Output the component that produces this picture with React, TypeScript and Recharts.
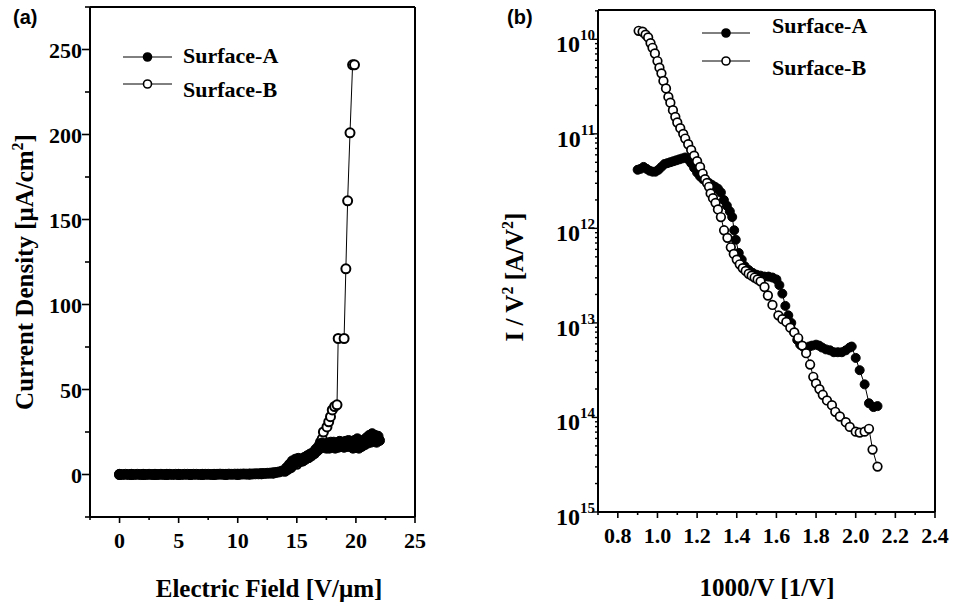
import React from 'react';
import { LineChart, Line, XAxis, YAxis, ReferenceLine, Legend } from 'recharts';

const SERIF = '"Liberation Serif", "Times New Roman", serif';
const SANS = '"Liberation Sans", Arial, sans-serif';

// ---------- panel (a) ----------
const fieldMajor = [0, 5, 10, 15, 20, 25];
const fieldMinor = [-2.5, 2.5, 7.5, 12.5, 17.5, 22.5];
const densityMajor = [0, 50, 100, 150, 200, 250];
const densityMinor = [-25, 25, 75, 125, 175, 225, 275];

const seriesNames = ['Surface-A', 'Surface-B'];

const densityA = [
  { x: 0, y: 0.1 }, { x: 0.25, y: 0 }, { x: 0.5, y: 0.1 }, { x: 0.75, y: 0 }, { x: 1, y: 0.1 },
  { x: 1.25, y: 0 }, { x: 1.5, y: 0.1 }, { x: 1.75, y: 0 }, { x: 2, y: 0.1 }, { x: 2.25, y: 0 },
  { x: 2.5, y: 0.1 }, { x: 2.75, y: 0 }, { x: 3, y: 0.1 }, { x: 3.25, y: 0 }, { x: 3.5, y: 0.1 },
  { x: 3.75, y: 0 }, { x: 4, y: 0.1 }, { x: 4.25, y: 0.1 }, { x: 4.5, y: 0 }, { x: 4.75, y: 0.1 },
  { x: 5, y: 0.1 }, { x: 5.25, y: 0 }, { x: 5.5, y: 0.1 }, { x: 5.75, y: 0.1 }, { x: 6, y: 0 },
  { x: 6.25, y: 0.1 }, { x: 6.5, y: 0.1 }, { x: 6.75, y: 0 }, { x: 7, y: 0.1 }, { x: 7.25, y: 0.1 },
  { x: 7.5, y: 0.1 }, { x: 7.75, y: 0 }, { x: 8, y: 0.1 }, { x: 8.25, y: 0.1 }, { x: 8.5, y: 0.2 },
  { x: 8.75, y: 0.1 }, { x: 9, y: 0.1 }, { x: 9.25, y: 0.2 }, { x: 9.5, y: 0.1 }, { x: 9.75, y: 0.2 },
  { x: 10, y: 0.2 }, { x: 10.25, y: 0.2 }, { x: 10.5, y: 0.3 }, { x: 10.75, y: 0.2 }, { x: 11, y: 0.3 },
  { x: 11.25, y: 0.3 }, { x: 11.5, y: 0.4 }, { x: 11.75, y: 0.4 }, { x: 12, y: 0.5 }, { x: 12.25, y: 0.6 },
  { x: 12.5, y: 0.7 }, { x: 12.75, y: 0.8 }, { x: 13, y: 1.0 }, { x: 13.25, y: 1.2 }, { x: 13.5, y: 1.5 },
  { x: 13.75, y: 2.0 }, { x: 14, y: 2 }, { x: 14.125, y: 4 }, { x: 14.25, y: 3 }, { x: 14.375, y: 6 },
  { x: 14.5, y: 4.5 }, { x: 14.625, y: 8 }, { x: 14.75, y: 6 }, { x: 14.875, y: 9 }, { x: 15, y: 7 },
  { x: 15.125, y: 9.5 }, { x: 15.25, y: 7.5 }, { x: 15.375, y: 9 }, { x: 15.5, y: 8 }, { x: 15.625, y: 10 },
  { x: 15.75, y: 9 }, { x: 15.875, y: 11 }, { x: 16, y: 10 }, { x: 16.125, y: 12 }, { x: 16.25, y: 11 },
  { x: 16.375, y: 13 }, { x: 16.5, y: 12.5 }, { x: 16.625, y: 15 }, { x: 16.75, y: 14 }, { x: 16.875, y: 17 },
  { x: 17, y: 15.5 }, { x: 17.125, y: 18.5 }, { x: 17.25, y: 16 }, { x: 17.375, y: 18 }, { x: 17.5, y: 15.5 },
  { x: 17.625, y: 18.5 }, { x: 17.75, y: 15.5 }, { x: 17.875, y: 19 }, { x: 18, y: 16 }, { x: 18.125, y: 19 },
  { x: 18.25, y: 15.5 }, { x: 18.375, y: 18.5 }, { x: 18.5, y: 16 }, { x: 18.625, y: 19.5 }, { x: 18.75, y: 16.5 },
  { x: 18.875, y: 19 }, { x: 19, y: 16 }, { x: 19.125, y: 19.5 }, { x: 19.25, y: 16.5 }, { x: 19.375, y: 20 },
  { x: 19.5, y: 16.5 }, { x: 19.625, y: 19.5 }, { x: 19.75, y: 15.5 }, { x: 19.875, y: 20 }, { x: 20, y: 16 },
  { x: 20.125, y: 21 }, { x: 20.25, y: 15.5 }, { x: 20.375, y: 19.5 }, { x: 20.5, y: 16.5 }, { x: 20.625, y: 20 },
  { x: 20.75, y: 17.5 }, { x: 20.875, y: 21.5 }, { x: 21, y: 18.5 }, { x: 21.125, y: 23 }, { x: 21.25, y: 19 },
  { x: 21.375, y: 24 }, { x: 21.5, y: 19.5 }, { x: 21.625, y: 23 }, { x: 21.75, y: 19 }, { x: 21.875, y: 22.5 },
  { x: 22, y: 20 },
];

const densityB = [
  { x: 0, y: 0 }, { x: 1, y: 0 }, { x: 2, y: 0 }, { x: 3, y: 0 }, { x: 4, y: 0 }, { x: 5, y: 0 },
  { x: 6, y: 0 }, { x: 7, y: 0 }, { x: 8, y: 0 }, { x: 9, y: 0 }, { x: 10, y: 0 }, { x: 11, y: 0.2 },
  { x: 12, y: 0.4 }, { x: 13, y: 0.8 }, { x: 14, y: 2 }, { x: 14.5, y: 4 }, { x: 15, y: 6 },
  { x: 15.5, y: 8 }, { x: 16, y: 10 }, { x: 16.5, y: 12.5 }, { x: 16.8, y: 15 }, { x: 17.0, y: 19 },
  { x: 17.15, y: 21 }, { x: 17.25, y: 25 }, { x: 17.55, y: 28 }, { x: 17.7, y: 31 }, { x: 17.85, y: 34 },
  { x: 18.0, y: 38 }, { x: 18.2, y: 40 }, { x: 18.4, y: 41 }, { x: 18.5, y: 80 }, { x: 19.0, y: 80 },
  { x: 19.15, y: 121 }, { x: 19.3, y: 161 }, { x: 19.5, y: 201 }, { x: 19.72, y: 241 }, { x: 19.88, y: 241 },
];

// ---------- panel (b) ----------
const invVMajor = [0.8, 1.0, 1.2, 1.4, 1.6, 1.8, 2.0, 2.2, 2.4];
const invVMinor = [0.7, 0.9, 1.1, 1.3, 1.5, 1.7, 1.9, 2.1, 2.3];
const fnDecades = [10, 11, 12, 13, 14, 15];

// y = decade exponent of I/V^2 as printed on the axis
const fnA = [
  { x: 0.9, y: 11.38 }, { x: 0.915, y: 11.37 }, { x: 0.93, y: 11.35 }, { x: 0.945, y: 11.37 },
  { x: 0.96, y: 11.39 }, { x: 0.975, y: 11.4 }, { x: 0.99, y: 11.4 }, { x: 1.005, y: 11.38 },
  { x: 1.02, y: 11.35 }, { x: 1.035, y: 11.32 }, { x: 1.05, y: 11.31 }, { x: 1.065, y: 11.3 },
  { x: 1.08, y: 11.29 }, { x: 1.095, y: 11.28 }, { x: 1.11, y: 11.27 }, { x: 1.125, y: 11.26 },
  { x: 1.14, y: 11.25 }, { x: 1.155, y: 11.27 }, { x: 1.17, y: 11.31 }, { x: 1.185, y: 11.36 },
  { x: 1.2, y: 11.41 }, { x: 1.215, y: 11.45 }, { x: 1.23, y: 11.48 }, { x: 1.245, y: 11.5 },
  { x: 1.26, y: 11.52 }, { x: 1.275, y: 11.54 }, { x: 1.29, y: 11.56 }, { x: 1.305, y: 11.58 },
  { x: 1.32, y: 11.62 }, { x: 1.335, y: 11.7 }, { x: 1.35, y: 11.76 }, { x: 1.365, y: 11.82 },
  { x: 1.377, y: 11.88 }, { x: 1.387, y: 12.02 }, { x: 1.395, y: 12.12 }, { x: 1.41, y: 12.26 },
  { x: 1.425, y: 12.33 }, { x: 1.44, y: 12.4 }, { x: 1.46, y: 12.44 }, { x: 1.48, y: 12.47 },
  { x: 1.5, y: 12.49 }, { x: 1.52, y: 12.5 }, { x: 1.54, y: 12.51 }, { x: 1.56, y: 12.51 },
  { x: 1.58, y: 12.52 }, { x: 1.6, y: 12.54 }, { x: 1.615, y: 12.6 }, { x: 1.63, y: 12.69 },
  { x: 1.645, y: 12.82 }, { x: 1.66, y: 12.92 }, { x: 1.675, y: 13.0 }, { x: 1.69, y: 13.1 },
  { x: 1.705, y: 13.18 }, { x: 1.72, y: 13.23 }, { x: 1.735, y: 13.25 }, { x: 1.75, y: 13.27 },
  { x: 1.765, y: 13.25 }, { x: 1.78, y: 13.24 }, { x: 1.8, y: 13.23 }, { x: 1.815, y: 13.24 },
  { x: 1.83, y: 13.26 }, { x: 1.85, y: 13.28 }, { x: 1.87, y: 13.29 }, { x: 1.89, y: 13.31 },
  { x: 1.91, y: 13.31 }, { x: 1.93, y: 13.31 }, { x: 1.95, y: 13.29 }, { x: 1.97, y: 13.26 },
  { x: 1.98, y: 13.25 }, { x: 2.0, y: 13.37 }, { x: 2.02, y: 13.5 }, { x: 2.045, y: 13.65 },
  { x: 2.067, y: 13.85 }, { x: 2.09, y: 13.89 }, { x: 2.11, y: 13.88 },
];

const fnB = [
  { x: 0.905, y: 9.91 }, { x: 0.925, y: 9.92 }, { x: 0.94, y: 9.95 }, { x: 0.953, y: 9.98 },
  { x: 0.965, y: 10.04 }, { x: 0.975, y: 10.09 }, { x: 0.987, y: 10.15 }, { x: 1.0, y: 10.23 },
  { x: 1.01, y: 10.3 }, { x: 1.02, y: 10.36 }, { x: 1.03, y: 10.44 }, { x: 1.043, y: 10.52 },
  { x: 1.055, y: 10.61 }, { x: 1.065, y: 10.67 }, { x: 1.078, y: 10.75 }, { x: 1.09, y: 10.82 },
  { x: 1.1, y: 10.88 }, { x: 1.115, y: 10.94 }, { x: 1.13, y: 11.0 }, { x: 1.14, y: 11.05 },
  { x: 1.155, y: 11.11 }, { x: 1.17, y: 11.17 }, { x: 1.185, y: 11.23 }, { x: 1.2, y: 11.29 },
  { x: 1.215, y: 11.35 }, { x: 1.228, y: 11.42 }, { x: 1.24, y: 11.48 }, { x: 1.25, y: 11.52 },
  { x: 1.26, y: 11.56 }, { x: 1.268, y: 11.63 }, { x: 1.28, y: 11.68 }, { x: 1.293, y: 11.73 },
  { x: 1.305, y: 11.8 }, { x: 1.32, y: 11.88 }, { x: 1.336, y: 12.02 }, { x: 1.353, y: 12.1 },
  { x: 1.37, y: 12.2 }, { x: 1.385, y: 12.27 }, { x: 1.4, y: 12.33 }, { x: 1.415, y: 12.38 },
  { x: 1.43, y: 12.42 }, { x: 1.445, y: 12.45 }, { x: 1.46, y: 12.48 }, { x: 1.475, y: 12.5 },
  { x: 1.49, y: 12.52 }, { x: 1.505, y: 12.54 }, { x: 1.52, y: 12.56 }, { x: 1.54, y: 12.62 },
  { x: 1.557, y: 12.71 }, { x: 1.58, y: 12.81 }, { x: 1.61, y: 12.92 }, { x: 1.63, y: 12.96 },
  { x: 1.65, y: 12.99 }, { x: 1.67, y: 13.05 }, { x: 1.69, y: 13.1 }, { x: 1.71, y: 13.16 },
  { x: 1.73, y: 13.24 }, { x: 1.75, y: 13.32 }, { x: 1.77, y: 13.44 }, { x: 1.786, y: 13.57 },
  { x: 1.8, y: 13.64 }, { x: 1.817, y: 13.7 }, { x: 1.834, y: 13.76 }, { x: 1.855, y: 13.82 },
  { x: 1.88, y: 13.87 }, { x: 1.897, y: 13.94 }, { x: 1.92, y: 13.99 }, { x: 1.95, y: 14.05 },
  { x: 1.97, y: 14.1 }, { x: 2.0, y: 14.15 }, { x: 2.02, y: 14.16 }, { x: 2.045, y: 14.15 },
  { x: 2.067, y: 14.12 }, { x: 2.085, y: 14.34 }, { x: 2.11, y: 14.52 },
];

const FN_MIN = 9.69;
const FN_MAX = 15;
const fnMinor: number[] = [];
for (let d = 9; d <= 14; d++) {
  for (let k = 2; k <= 9; k++) {
    const e = d + 1 - Math.log10(k);
    if (e > FN_MIN && e < FN_MAX) fnMinor.push(e);
  }
}

const isIn = (arr: number[], v: number) => arr.some((m) => Math.abs(m - v) < 1e-6);

const makeXTick = (majors: number[], fmt: (v: number) => string, majorLen: number, minorLen: number, labelDy: number) =>
  (props: any) => {
    const { x, y, payload } = props;
    const v = payload.value;
    const major = isIn(majors, v);
    return (
      <g>
        <line x1={x} x2={x} y1={y} y2={y + (major ? majorLen : minorLen)} stroke="#000" strokeWidth={1.6} />
        {major && (
          <text x={x} y={y + labelDy} textAnchor="middle" fontFamily={SERIF} fontWeight={700} fontSize={22} fill="#000">
            {fmt(v)}
          </text>
        )}
      </g>
    );
  };

const densityYTick = (props: any) => {
  const { x, y, payload } = props;
  const v = payload.value;
  const major = isIn(densityMajor, v);
  return (
    <g>
      <line x1={x} x2={x - (major ? 8 : 5)} y1={y} y2={y} stroke="#000" strokeWidth={1.6} />
      {major && (
        <text x={x - 8} y={y + 8} textAnchor="end" fontFamily={SERIF} fontWeight={700} fontSize={22} fill="#000">
          {String(v)}
        </text>
      )}
    </g>
  );
};

const fnYTick = (props: any) => {
  const { x, y, payload } = props;
  const v = payload.value;
  const major = isIn(fnDecades, v);
  return (
    <g>
      <line x1={x} x2={x - (major ? 6 : 3)} y1={y} y2={y} stroke="#000" strokeWidth={1.4} />
      {major && (
        <text x={x - 3} y={y + 13} textAnchor="end" fontFamily={SERIF} fontWeight={700} fontSize={24} fill="#000">
          <tspan>10</tspan>
          <tspan dy={-12} fontSize={15}>{String(Math.round(v))}</tspan>
        </text>
      )}
    </g>
  );
};

const filledDotA = { r: 5, fill: '#000', stroke: '#000', strokeWidth: 1 };
const filledDotB = { r: 4.5, fill: '#000', stroke: '#000', strokeWidth: 1 };
const openDotA = { r: 4.5, fill: '#fff', stroke: '#000', strokeWidth: 2 };
const openDotB = { r: 4.3, fill: '#fff', stroke: '#000', strokeWidth: 1.7 };

const legendBox = (lineX1: number, lineX2: number, lineYs: number[], textX: number, textYs: number[], w: number, h: number) =>
  () => (
    <svg width={w} height={h} style={{ overflow: 'visible', display: 'block' }}>
      {seriesNames.map((name, i) => (
        <g key={name}>
          <line x1={lineX1} x2={lineX2} y1={lineYs[i]} y2={lineYs[i]} stroke="#000" strokeWidth={1} />
          <circle cx={(lineX1 + lineX2) / 2} cy={lineYs[i]} r={4} fill={i === 0 ? '#000' : '#fff'} stroke="#000" strokeWidth={1.6} />
          <text x={textX} y={textYs[i]} fontFamily={SERIF} fontWeight={700} fontSize={22} fill="#000">{name}</text>
        </g>
      ))}
    </svg>
  );

export default function App() {
  return (
    <div style={{ position: 'absolute', left: 0, top: 0, width: 955, height: 606, background: '#fff', overflow: 'hidden' }}>
      {/* Panel (a) */}
      <div style={{ position: 'absolute', left: 0, top: 0 }}>
        <LineChart width={480} height={606} margin={{ top: 7, right: 65, bottom: 0, left: 0 }}>
          <XAxis
            dataKey="x"
            type="number"
            domain={[-2.5, 25]}
            ticks={[...fieldMajor, ...fieldMinor].sort((a, b) => a - b)}
            interval={0}
            allowDataOverflow
            height={89}
            tickSize={0}
            tickMargin={0}
            tickLine={false}
            axisLine={{ stroke: '#000', strokeWidth: 2 }}
            tick={makeXTick(fieldMajor, (v) => String(v), 6, 3, 31)}
            label={{
              content: () => (
                <text x={269} y={597} textAnchor="middle" fontFamily={SERIF} fontWeight={700} fontSize={25} fill="#000">
                  Electric Field [V/μm]
                </text>
              ),
            }}
          />
          <YAxis
            type="number"
            domain={[-25, 275]}
            ticks={[...densityMajor, ...densityMinor].sort((a, b) => a - b)}
            interval={0}
            allowDataOverflow
            width={90}
            tickSize={0}
            tickMargin={0}
            tickLine={false}
            axisLine={{ stroke: '#000', strokeWidth: 2 }}
            tick={densityYTick}
            label={{
              content: () => (
                <text
                  x={33}
                  y={272}
                  transform="rotate(-90 33 272)"
                  textAnchor="middle"
                  fontFamily={SERIF}
                  fontWeight={700}
                  fontSize={25}
                  fill="#000"
                >
                  <tspan>Current Density [μA/cm</tspan>
                  <tspan dy={-10} fontSize={16}>2</tspan>
                  <tspan dy={10}>]</tspan>
                </text>
              ),
            }}
          />
          <ReferenceLine y={275} stroke="#000" strokeWidth={2} />
          <ReferenceLine x={25} stroke="#000" strokeWidth={2} />
          <Legend
            verticalAlign="middle"
            align="center"
            layout="horizontal"
            wrapperStyle={{ position: 'absolute', left: 115, top: 35, width: 220, height: 70 }}
            content={legendBox(8, 57, [22, 49], 68, [28, 62], 220, 70)}
          />
          <Line
            name={seriesNames[1]}
            data={densityB}
            dataKey="y"
            type="linear"
            stroke="#000"
            strokeWidth={1}
            dot={openDotA}
            activeDot={false}
            isAnimationActive={false}
          />
          <Line
            name={seriesNames[0]}
            data={densityA}
            dataKey="y"
            type="linear"
            stroke="#000"
            strokeWidth={1}
            dot={filledDotA}
            activeDot={false}
            isAnimationActive={false}
          />
        </LineChart>
      </div>

      {/* Panel (b) */}
      <div style={{ position: 'absolute', left: 480, top: 0 }}>
        <LineChart width={475} height={606} margin={{ top: 10, right: 20, bottom: 0, left: 0 }}>
          <XAxis
            dataKey="x"
            type="number"
            domain={[0.7, 2.4]}
            ticks={[...invVMajor, ...invVMinor].sort((a, b) => a - b)}
            interval={0}
            allowDataOverflow
            height={94}
            tickSize={0}
            tickMargin={0}
            tickLine={false}
            axisLine={{ stroke: '#000', strokeWidth: 2 }}
            tick={makeXTick(invVMajor, (v) => v.toFixed(1), 6, 3, 31)}
            label={{
              content: () => (
                <text x={287} y={596} textAnchor="middle" fontFamily={SERIF} fontWeight={700} fontSize={25} fill="#000">
                  1000/V [1/V]
                </text>
              ),
            }}
          />
          <YAxis
            type="number"
            reversed
            domain={[FN_MIN, FN_MAX]}
            ticks={[...fnDecades, ...fnMinor].sort((a, b) => a - b)}
            interval={0}
            allowDataOverflow
            width={118}
            tickSize={0}
            tickMargin={0}
            tickLine={false}
            axisLine={{ stroke: '#000', strokeWidth: 2 }}
            tick={fnYTick}
            label={{
              content: () => (
                <text
                  x={43}
                  y={277}
                  transform="rotate(-90 43 277)"
                  textAnchor="middle"
                  fontFamily={SERIF}
                  fontWeight={700}
                  fontSize={25}
                  fill="#000"
                >
                  <tspan>I / V</tspan>
                  <tspan dy={-10} fontSize={16}>2</tspan>
                  <tspan dy={10}> [A/V</tspan>
                  <tspan dy={-10} fontSize={16}>2</tspan>
                  <tspan dy={10}>]</tspan>
                </text>
              ),
            }}
          />
          <ReferenceLine y={FN_MIN} stroke="#000" strokeWidth={2} />
          <ReferenceLine x={2.4} stroke="#000" strokeWidth={2} />
          <Legend
            verticalAlign="middle"
            align="center"
            layout="horizontal"
            wrapperStyle={{ position: 'absolute', left: 215, top: 5, width: 240, height: 70 }}
            content={legendBox(7, 55, [28, 56], 77, [28, 70], 240, 70)}
          />
          <Line
            name={seriesNames[0]}
            data={fnA}
            dataKey="y"
            type="linear"
            stroke="#000"
            strokeWidth={1}
            dot={filledDotB}
            activeDot={false}
            isAnimationActive={false}
          />
          <Line
            name={seriesNames[1]}
            data={fnB}
            dataKey="y"
            type="linear"
            stroke="#000"
            strokeWidth={1}
            dot={openDotB}
            activeDot={false}
            isAnimationActive={false}
          />
        </LineChart>
      </div>

      {/* panel letters */}
      <svg width={955} height={40} style={{ position: 'absolute', left: 0, top: 0, pointerEvents: 'none' }}>
        <text x={13} y={24} fontFamily={SANS} fontWeight={700} fontSize={20} fill="#000">(a)</text>
        <text x={507} y={24} fontFamily={SANS} fontWeight={700} fontSize={20} fill="#000">(b)</text>
      </svg>
    </div>
  );
}
